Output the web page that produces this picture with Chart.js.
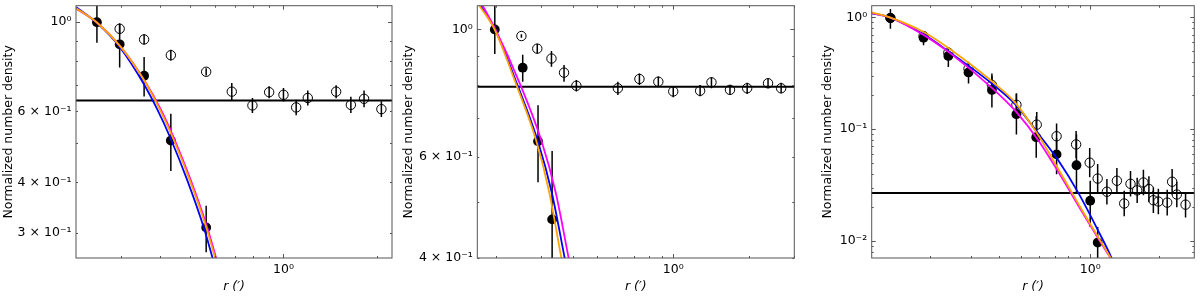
<!DOCTYPE html>
<html>
<head>
<meta charset="utf-8">
<script src="https://cdn.jsdelivr.net/npm/chart.js@4.4.0/dist/chart.umd.min.js"></script>
<style>
  body { margin: 0; background: #fff; }
  canvas { position: absolute; top: 0; }
</style>
</head>
<body>
<canvas id="panel1" width="400" height="297" style="left:0px"></canvas>
<canvas id="panel2" width="400" height="297" style="left:400px"></canvas>
<canvas id="panel3" width="400" height="297" style="left:800px"></canvas>
<script>
// ---- panel 1 ----
const p1XRange = [0.214, 2.24];
const p1YRange = [0.2594, 1.099];
const p1XTicks = [0.3, 0.4, 0.5, 0.6, 0.7, 0.8, 0.9, 1, 2];
const p1XTickLabels = ['', '', '', '', '', '', '', '10⁰', ''];
const p1YTicks = [0.3, 0.4, 0.5, 0.6, 0.7, 0.8, 0.9, 1];
const p1YTickLabels = ['3 × 10⁻¹', '4 × 10⁻¹', '', '6 × 10⁻¹', '', '', '', '10⁰'];

const p1FilledR = [0.25, 0.296, 0.355, 0.433, 0.563];
const p1FilledN = [1.0, 0.881, 0.736, 0.508, 0.309];
const p1FilledLo = [0.889, 0.772, 0.654, 0.427, 0.268];
const p1FilledHi = [1.12, 0.99, 0.820, 0.592, 0.350];

const p1OpenR = [0.296, 0.355, 0.433, 0.563, 0.681, 0.794, 0.899, 1.0, 1.099, 1.198, 1.479, 1.65, 1.82, 2.07];
const p1OpenN = [0.963, 0.906, 0.828, 0.753, 0.672, 0.621, 0.670, 0.660, 0.614, 0.648, 0.672, 0.623, 0.645, 0.608];
const p1OpenLo = [0.933, 0.880, 0.803, 0.737, 0.640, 0.595, 0.647, 0.635, 0.587, 0.621, 0.647, 0.595, 0.615, 0.581];
const p1OpenHi = [0.994, 0.934, 0.854, 0.768, 0.706, 0.648, 0.693, 0.686, 0.642, 0.676, 0.697, 0.653, 0.676, 0.636];
const p1Background = 0.639;

const p1BlueR = [0.2144, 0.250, 0.296, 0.3527, 0.3915, 0.4310, 0.4891, 0.5549, 0.593];
const p1BlueN = [1.089, 0.996, 0.868, 0.706, 0.607, 0.517, 0.405, 0.3064, 0.2564];
const p1OrangeR = [0.2144, 0.250, 0.2984, 0.3593, 0.3988, 0.4391, 0.4983, 0.5653, 0.6045];
const p1OrangeN = [1.083, 0.998, 0.868, 0.706, 0.607, 0.517, 0.405, 0.3064, 0.2564];
const p1MagentaR = [0.2144, 0.250, 0.2984, 0.3600, 0.4018, 0.4424, 0.502, 0.5695, 0.609];
const p1MagentaN = [1.080, 0.998, 0.868, 0.706, 0.607, 0.517, 0.405, 0.3064, 0.2564];

// ---- panel 2 ----
const p2XRange = [0.168, 3.01];
const p2YRange = [0.40, 1.10];
const p2XTicks = [0.2, 0.3, 0.4, 0.5, 0.6, 0.7, 0.8, 0.9, 1, 2, 3];
const p2XTickLabels = ['', '', '', '', '', '', '', '', '10⁰', '', ''];
const p2YTicks = [0.4, 0.5, 0.6, 0.7, 0.8, 0.9, 1];
const p2YTickLabels = ['4 × 10⁻¹', '', '6 × 10⁻¹', '', '', '', '10⁰'];

const p2FilledR = [0.197, 0.254, 0.292, 0.332];
const p2FilledN = [1.0, 0.858, 0.639, 0.467];
const p2FilledLo = [0.906, 0.811, 0.542, 0.38];
const p2FilledHi = [1.12, 0.904, 0.738, 0.614];

const p2OpenR = [0.251, 0.290, 0.330, 0.370, 0.414, 0.604, 0.735, 0.873, 1.0, 1.277, 1.416, 1.676, 1.96, 2.37, 2.67];
const p2OpenN = [0.974, 0.926, 0.890, 0.841, 0.798, 0.790, 0.820, 0.811, 0.780, 0.782, 0.809, 0.785, 0.790, 0.806, 0.790];
const p2OpenLo = [0.967, 0.908, 0.861, 0.811, 0.780, 0.769, 0.800, 0.794, 0.762, 0.765, 0.790, 0.770, 0.772, 0.790, 0.774];
const p2OpenHi = [0.981, 0.944, 0.917, 0.867, 0.817, 0.811, 0.838, 0.828, 0.796, 0.800, 0.826, 0.800, 0.808, 0.822, 0.808];
const p2Background = 0.795;

const p2BlueR = [0.1734, 0.1974, 0.2409, 0.2914, 0.3309, 0.3723, 0.3774];
const p2BlueN = [1.10, 1.0, 0.8048, 0.6392, 0.520, 0.3997, 0.3877];
const p2OrangeR = [0.1713, 0.1965, 0.2387, 0.2875, 0.3235, 0.3613, 0.3663];
const p2OrangeN = [1.10, 1.0, 0.8048, 0.6392, 0.520, 0.3997, 0.3877];
const p2MagentaR = [0.1765, 0.1982, 0.2475, 0.3014, 0.3430, 0.3860, 0.3913];
const p2MagentaN = [1.10, 1.0, 0.8048, 0.6392, 0.520, 0.3997, 0.3877];

// ---- panel 3 ----
const p3XRange = [0.111, 2.85];
const p3YRange = [0.00703, 1.27];
const p3XTicks = [0.2, 0.3, 0.4, 0.5, 0.6, 0.7, 0.8, 0.9, 1, 2];
const p3XTickLabels = ['', '', '', '', '', '', '', '', '10⁰', ''];
const p3YTicks = [0.008, 0.009, 0.01, 0.02, 0.03, 0.04, 0.05, 0.06, 0.07, 0.08, 0.09,
                  0.1, 0.2, 0.3, 0.4, 0.5, 0.6, 0.7, 0.8, 0.9, 1];
const p3YTickLabels = ['', '', '10⁻²', '', '', '', '', '', '', '', '',
                       '10⁻¹', '', '', '', '', '', '', '', '', '10⁰'];

const p3FilledR = [0.134, 0.187, 0.240, 0.294, 0.372, 0.476, 0.581, 0.713, 0.871, 1.0, 1.078];
const p3FilledN = [0.986, 0.655, 0.451, 0.321, 0.224, 0.136, 0.0846, 0.0594, 0.0475, 0.0229, 0.00966];
const p3FilledLo = [0.788, 0.561, 0.360, 0.256, 0.156, 0.0894, 0.0554, 0.0395, 0.0271, 0.0133, 0.005];
const p3FilledHi = [1.185, 0.736, 0.524, 0.385, 0.314, 0.209, 0.130, 0.0834, 0.0894, 0.0345, 0.0133];

const p3OpenR = [0.134, 0.187, 0.240, 0.294, 0.372, 0.476, 0.584, 0.713, 0.868, 0.995, 1.078, 1.183,
                 1.308, 1.408, 1.50, 1.604, 1.708, 1.805, 1.888, 1.985, 2.17, 2.28, 2.39, 2.61];
const p3OpenN = [0.986, 0.679, 0.483, 0.348, 0.248, 0.165, 0.1096, 0.0863, 0.0729, 0.0501, 0.0361, 0.0275,
                 0.0345, 0.0216, 0.0324, 0.0283, 0.0333, 0.0291, 0.0231, 0.0225, 0.0220, 0.0338, 0.0260, 0.0211];
const p3OpenLo = [0.94, 0.617, 0.431, 0.303, 0.207, 0.132, 0.0843, 0.0664, 0.0552, 0.0371, 0.0267, 0.0212,
                  0.0265, 0.0166, 0.0249, 0.0218, 0.0256, 0.0224, 0.0178, 0.0173, 0.0169, 0.026, 0.020, 0.0162];
const p3OpenHi = [1.03, 0.747, 0.541, 0.40, 0.298, 0.206, 0.142, 0.112, 0.0962, 0.0676, 0.0487, 0.0358,
                  0.0449, 0.0281, 0.0421, 0.0368, 0.0433, 0.0378, 0.030, 0.0293, 0.0286, 0.0439, 0.0338, 0.0274];
const p3Background = 0.0268;

const p3BlueR = [0.111, 0.133, 0.1856, 0.2426, 0.374, 0.473, 0.597, 0.7298, 0.8913, 1.0889, 1.240, 1.278];
const p3BlueN = [1.085, 1.0, 0.711, 0.489, 0.253, 0.165, 0.0894, 0.0515, 0.0265, 0.0121, 0.00701, 0.00595];
const p3OrangeR = [0.111, 0.133, 0.1856, 0.2426, 0.374, 0.473, 0.597, 0.7298, 0.937, 1.224, 1.291];
const p3OrangeN = [1.107, 1.0, 0.747, 0.524, 0.265, 0.170, 0.0863, 0.0431, 0.01775, 0.00715, 0.00595];
const p3MagentaR = [0.111, 0.133, 0.1856, 0.2426, 0.374, 0.473, 0.597, 0.7298, 0.937, 1.231, 1.297];
const p3MagentaN = [1.092, 1.0, 0.703, 0.483, 0.2314, 0.144, 0.078, 0.0406, 0.0172, 0.00697, 0.00595];

const FONT = 'DejaVu Sans';
const FONT_SIZE = 12.5;

function points(xs, ys, lo, hi) {
    return xs.map((x, i) => ({x: x, y: ys[i], lo: lo ? lo[i] : null, hi: hi ? hi[i] : null}));
}

// error bars under the markers
const errorBars = {
    id: 'errorBars',
    beforeDatasetsDraw(chart) {
        const {ctx, chartArea: a} = chart;
        const xs = chart.scales.x, ys = chart.scales.y;
        ctx.save();
        ctx.beginPath();
        ctx.rect(a.left, a.top, a.width, a.height);
        ctx.clip();
        ctx.strokeStyle = '#000';
        ctx.lineWidth = 1.5;
        chart.data.datasets.forEach(ds => {
            if (!ds.errorBars) return;
            ds.data.forEach(p => {
                const px = xs.getPixelForValue(p.x);
                ctx.beginPath();
                ctx.moveTo(px, ys.getPixelForValue(p.lo));
                ctx.lineTo(px, ys.getPixelForValue(p.hi));
                ctx.stroke();
            });
        });
        ctx.restore();
    }
};

// matplotlib style frame with inward ticks on all four sides
const frameTicks = {
    id: 'frameTicks',
    afterDraw(chart) {
        const {ctx, chartArea: a} = chart;
        const xs = chart.scales.x, ys = chart.scales.y;
        ctx.save();
        ctx.strokeStyle = '#555';
        ctx.lineWidth = 1;
        xs.ticks.forEach(t => {
            const px = Math.round(xs.getPixelForValue(t.value)) + 0.5;
            const len = t.major ? 4 : 2;
            ctx.beginPath();
            ctx.moveTo(px, a.bottom); ctx.lineTo(px, a.bottom - len);
            ctx.moveTo(px, a.top); ctx.lineTo(px, a.top + len);
            ctx.stroke();
        });
        ys.ticks.forEach(t => {
            const py = Math.round(ys.getPixelForValue(t.value)) + 0.5;
            const len = t.major ? 4 : 2;
            ctx.beginPath();
            ctx.moveTo(a.left, py); ctx.lineTo(a.left + len, py);
            ctx.moveTo(a.right, py); ctx.lineTo(a.right - len, py);
            ctx.stroke();
        });
        ctx.strokeRect(a.left, a.top, a.width, a.height);
        ctx.restore();
    }
};

function logAxis(range, tickVals, tickLabels, extra) {
    return Object.assign({
        type: 'logarithmic',
        min: range[0],
        max: range[1],
        bounds: 'data',
        grid: {display: false, drawTicks: false},
        border: {display: false},
        afterBuildTicks: scale => {
            scale.ticks = tickVals.map(v => ({value: v, major: Math.abs(Math.log10(v) - Math.round(Math.log10(v))) < 1e-9}));
        },
        ticks: {
            autoSkip: false,
            maxRotation: 0,
            padding: 4.5,
            color: '#000',
            font: {family: FONT, size: FONT_SIZE},
            callback: value => {
                const i = tickVals.indexOf(value);
                return i >= 0 ? tickLabels[i] : '';
            }
        }
    }, extra);
}

function makePanel(id, cfg) {
    const datasets = [
        {label: 'orange', data: points(cfg.orangeR, cfg.orangeN), showLine: true, borderColor: '#ffa500',
         borderWidth: 1.8, pointRadius: 0, cubicInterpolationMode: 'monotone', order: 0},
        {label: 'magenta', data: points(cfg.magentaR, cfg.magentaN), showLine: true, borderColor: '#ff00ff',
         borderWidth: 1.8, pointRadius: 0, cubicInterpolationMode: 'monotone', order: 1},
        {label: 'blue', data: points(cfg.blueR, cfg.blueN), showLine: true, borderColor: '#0000ff',
         borderWidth: 1.8, pointRadius: 0, cubicInterpolationMode: 'monotone', order: 2},
        {label: 'background', data: [{x: cfg.xRange[0] / 2, y: cfg.bg}, {x: cfg.xRange[1] * 2, y: cfg.bg}],
         showLine: true, borderColor: '#000', borderWidth: 2, pointRadius: 0, order: 3},
        {label: 'filled', data: points(cfg.filledR, cfg.filledN, cfg.filledLo, cfg.filledHi), errorBars: true,
         pointRadius: 4.9, pointBackgroundColor: '#000', pointBorderColor: '#000', pointBorderWidth: 0, order: 4},
        {label: 'open', data: points(cfg.openR, cfg.openN, cfg.openLo, cfg.openHi), errorBars: true,
         pointRadius: 4.7, pointBackgroundColor: 'rgba(0,0,0,0)', pointBorderColor: '#000', pointBorderWidth: 1, order: 5}
    ];
    return new Chart(document.getElementById(id), {
        type: 'scatter',
        data: {datasets: datasets},
        options: {
            responsive: false,
            animation: false,
            events: [],
            layout: {padding: {top: 3.3, right: cfg.padRight, left: 0, bottom: 0}},
            plugins: {legend: {display: false}, tooltip: {enabled: false}},
            scales: {
                x: logAxis(cfg.xRange, cfg.xTicks, cfg.xTickLabels, {
                    afterFit: s => { s.height = 39; s.paddingLeft = 0; s.paddingRight = 0; },
                    title: {display: true, text: 'r (′)', color: '#000',
                            font: {family: FONT, size: FONT_SIZE, style: 'italic'}, padding: {top: 0, bottom: 2.5}}
                }),
                y: logAxis(cfg.yRange, cfg.yTicks, cfg.yTickLabels, {
                    afterFit: s => { s.width = cfg.left; s.paddingTop = 0; s.paddingBottom = 0; },
                    title: {display: true, text: 'Normalized number density', color: '#000',
                            font: {family: FONT, size: FONT_SIZE}, padding: {top: cfg.titlePad, bottom: 0}}
                })
            }
        },
        plugins: [errorBars, frameTicks]
    });
}

makePanel('panel1', {
    xRange: p1XRange, yRange: p1YRange, xTicks: p1XTicks, xTickLabels: p1XTickLabels,
    yTicks: p1YTicks, yTickLabels: p1YTickLabels,
    filledR: p1FilledR, filledN: p1FilledN, filledLo: p1FilledLo, filledHi: p1FilledHi,
    openR: p1OpenR, openN: p1OpenN, openLo: p1OpenLo, openHi: p1OpenHi, bg: p1Background,
    blueR: p1BlueR, blueN: p1BlueN, orangeR: p1OrangeR, orangeN: p1OrangeN, magentaR: p1MagentaR, magentaN: p1MagentaN,
    left: 76, padRight: 8, titlePad: 1
});

makePanel('panel2', {
    xRange: p2XRange, yRange: p2YRange, xTicks: p2XTicks, xTickLabels: p2XTickLabels,
    yTicks: p2YTicks, yTickLabels: p2YTickLabels,
    filledR: p2FilledR, filledN: p2FilledN, filledLo: p2FilledLo, filledHi: p2FilledHi,
    openR: p2OpenR, openN: p2OpenN, openLo: p2OpenLo, openHi: p2OpenHi, bg: p2Background,
    blueR: p2BlueR, blueN: p2BlueN, orangeR: p2OrangeR, orangeN: p2OrangeN, magentaR: p2MagentaR, magentaN: p2MagentaN,
    left: 77.3, padRight: 4.3, titlePad: 1
});

makePanel('panel3', {
    xRange: p3XRange, yRange: p3YRange, xTicks: p3XTicks, xTickLabels: p3XTickLabels,
    yTicks: p3YTicks, yTickLabels: p3YTickLabels,
    filledR: p3FilledR, filledN: p3FilledN, filledLo: p3FilledLo, filledHi: p3FilledHi,
    openR: p3OpenR, openN: p3OpenN, openLo: p3OpenLo, openHi: p3OpenHi, bg: p3Background,
    blueR: p3BlueR, blueN: p3BlueN, orangeR: p3OrangeR, orangeN: p3OrangeN, magentaR: p3MagentaR, magentaN: p3MagentaN,
    left: 71.7, padRight: 4, titlePad: 20
});
</script>
</body>
</html>
